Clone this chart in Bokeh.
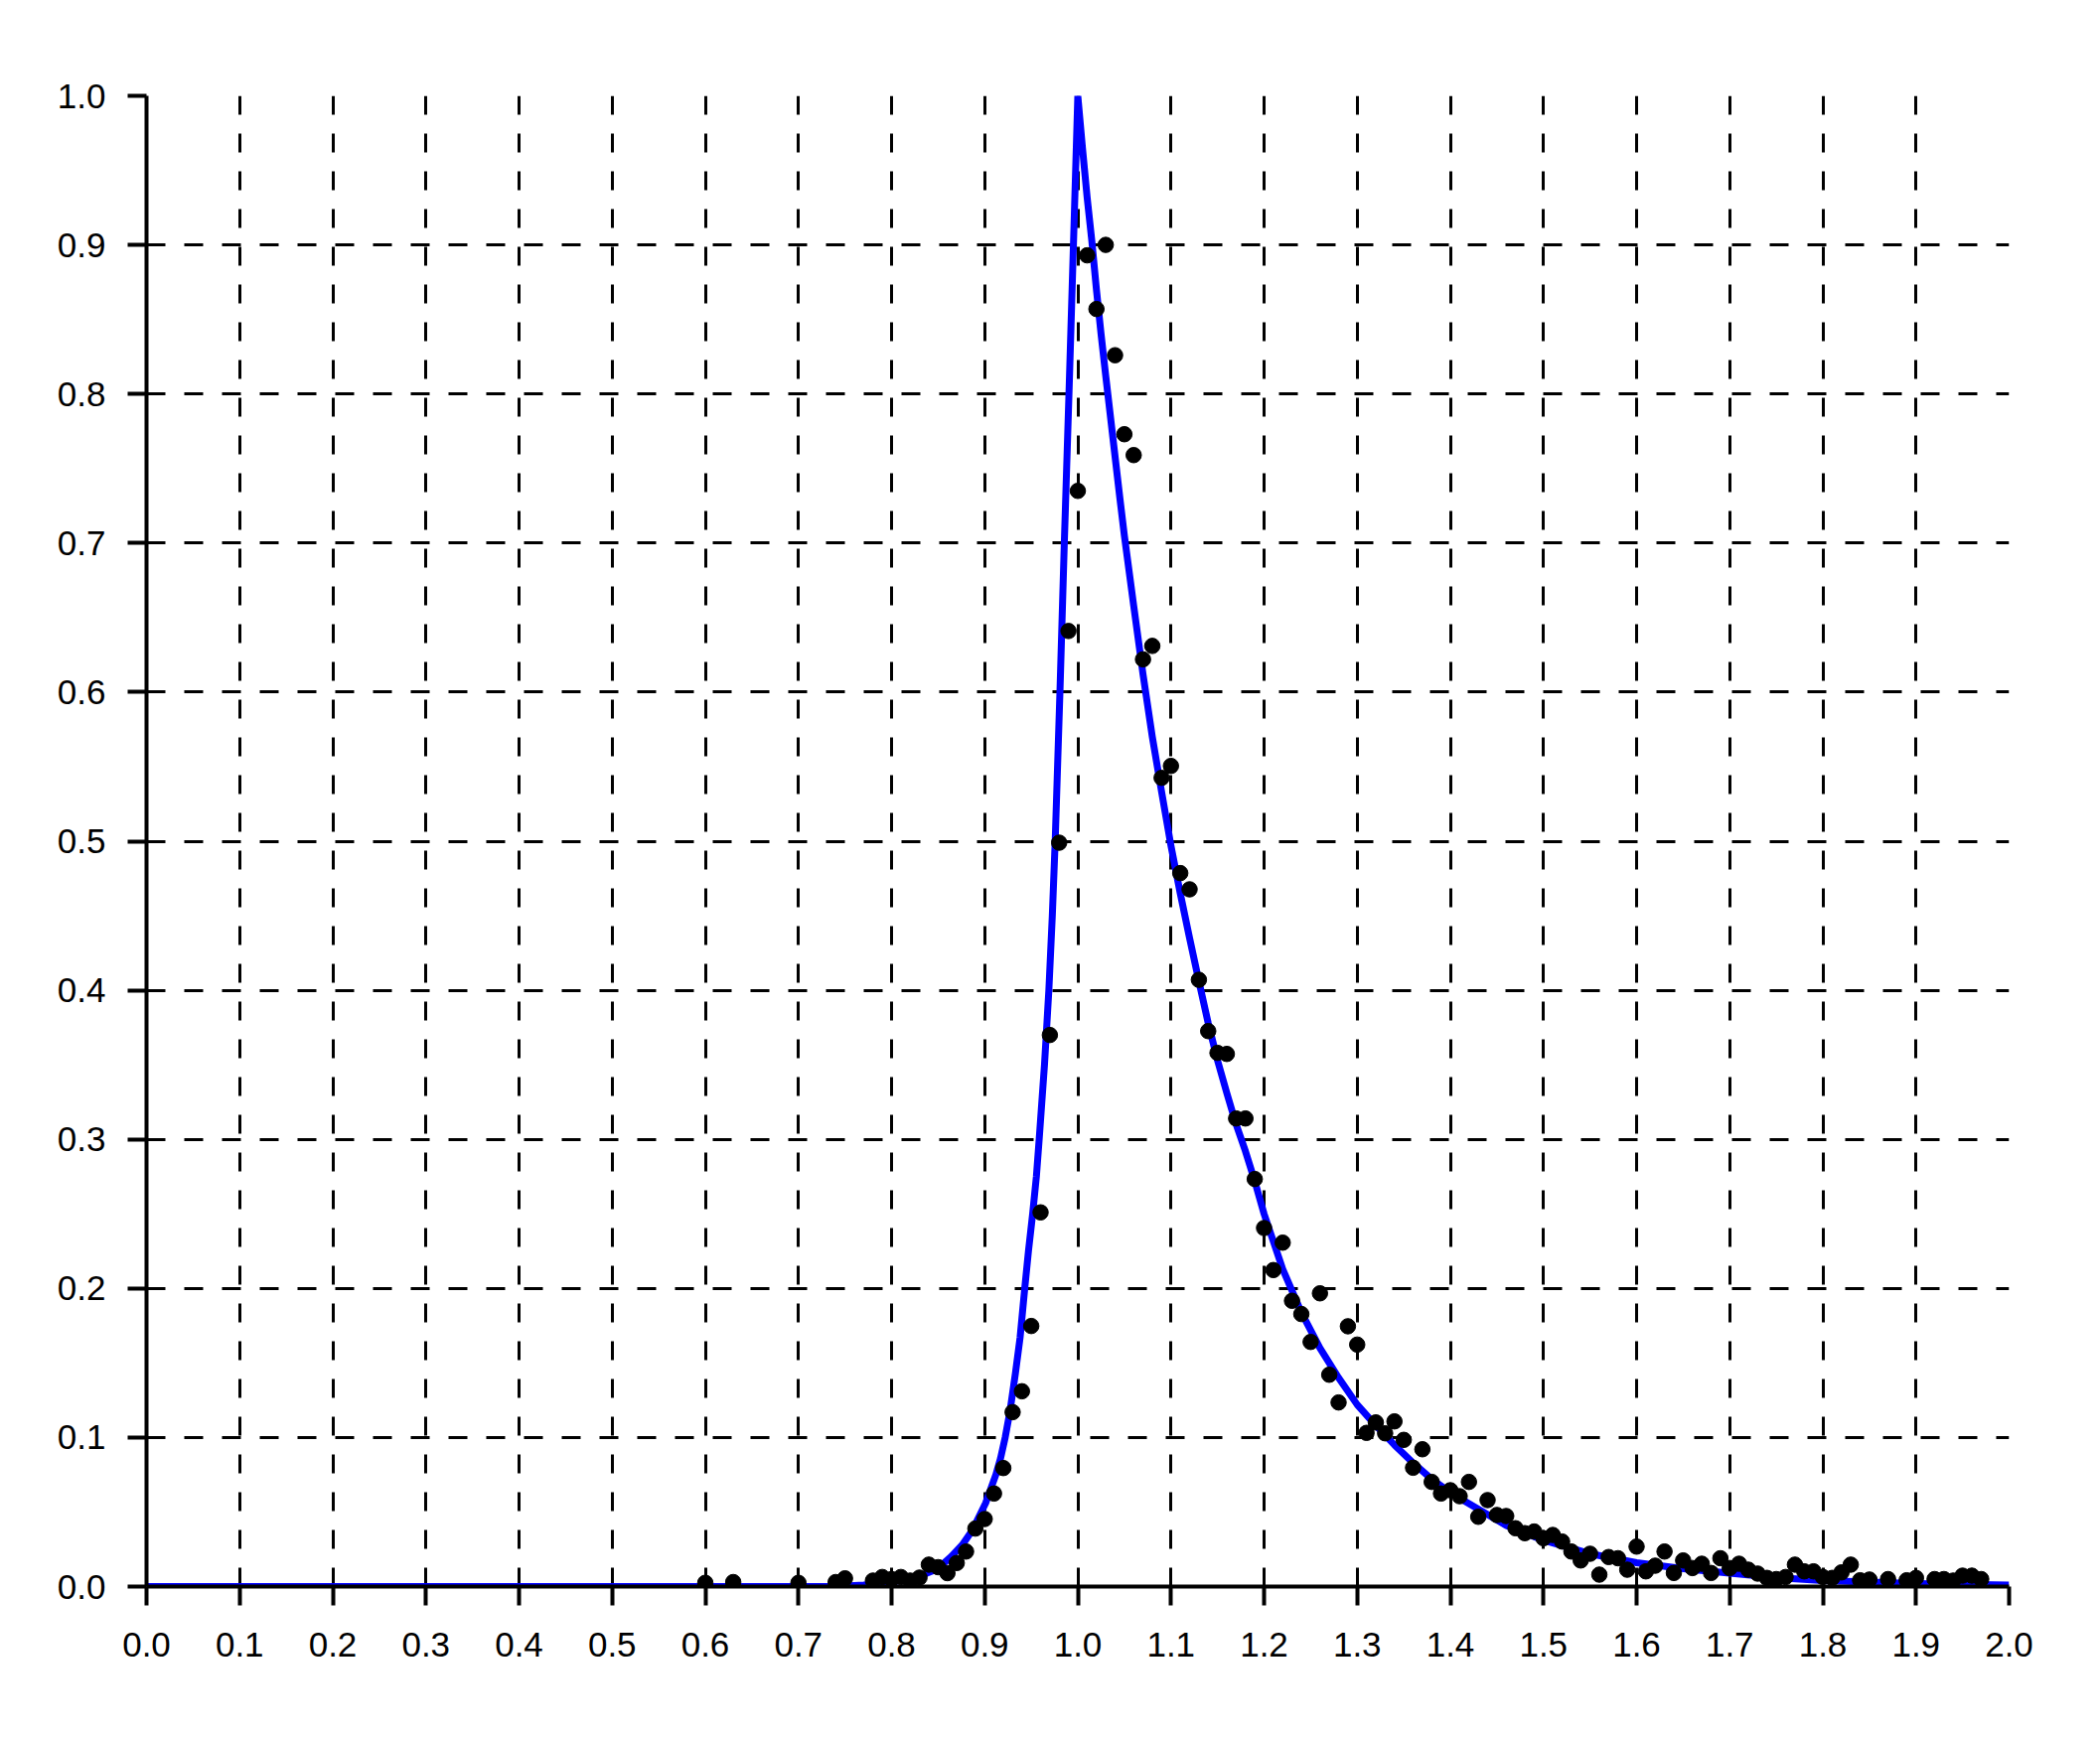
from bokeh.plotting import figure
from bokeh.models import FixedTicker, Range1d, PrintfTickFormatter
from bokeh.embed import file_html
from bokeh.resources import INLINE

# ---- data ----
x_ticks = [0.0, 0.1, 0.2, 0.3, 0.4, 0.5, 0.6, 0.7, 0.8, 0.9, 1.0,
           1.1, 1.2, 1.3, 1.4, 1.5, 1.6, 1.7, 1.8, 1.9, 2.0]
y_ticks = [0.0, 0.1, 0.2, 0.3, 0.4, 0.5, 0.6, 0.7, 0.8, 0.9, 1.0]

# fitted curve (blue)
curve_x = [0.0, 0.74, 0.77, 0.79, 0.80, 0.817, 0.83, 0.846, 0.855, 0.864,
           0.876, 0.887, 0.901, 0.912, 0.917, 0.922, 0.927, 0.933, 0.938,
           0.943, 0.947, 0.9515, 0.9555, 0.9585,
           0.9642, 0.9689, 0.9726, 0.9757, 0.9808, 0.9855, 0.9905, 0.9953,
           1.0,
           1.005, 1.010, 1.015, 1.020, 1.025, 1.030, 1.035, 1.040, 1.045,
           1.050, 1.060, 1.070, 1.080, 1.090, 1.100, 1.110, 1.120, 1.130,
           1.140, 1.150, 1.160, 1.170, 1.180, 1.190, 1.200, 1.220, 1.240,
           1.260, 1.280, 1.300, 1.320, 1.340, 1.360, 1.380, 1.400, 1.430,
           1.460, 1.500, 1.550, 1.600, 1.650, 1.700, 1.750, 1.800, 1.850,
           1.900, 1.950, 2.000]
curve_y = [0.0, 0.0, 0.001, 0.002, 0.003, 0.005, 0.007, 0.011, 0.015, 0.020,
           0.028, 0.038, 0.056, 0.075, 0.086, 0.100, 0.117, 0.143, 0.167,
           0.200, 0.225, 0.250, 0.275, 0.300,
           0.350, 0.400, 0.450, 0.500, 0.600, 0.700, 0.800, 0.900,
           1.000,
           0.965, 0.932, 0.903, 0.870, 0.840, 0.812, 0.785, 0.758, 0.731,
           0.705, 0.658, 0.612, 0.570, 0.533, 0.497, 0.465, 0.435, 0.406,
           0.378, 0.353, 0.331, 0.310, 0.292, 0.272, 0.250, 0.213, 0.184,
           0.160, 0.140, 0.122, 0.108, 0.095, 0.083, 0.072, 0.063, 0.052,
           0.041, 0.031, 0.022, 0.016, 0.012, 0.009, 0.006, 0.004, 0.003,
           0.002, 0.0015, 0.001]

# measured points (black dots)
dot_x = [0.60, 0.63, 0.70, 0.74, 0.75, 0.78, 0.79, 0.80, 0.81, 0.82, 0.83,
         0.84, 0.85, 0.86, 0.87, 0.88, 0.89, 0.90, 0.91, 0.92, 0.93, 0.94,
         0.95, 0.96, 0.97, 0.98, 0.99, 1.00, 1.01, 1.02, 1.03, 1.04, 1.05,
         1.06, 1.07, 1.08, 1.09, 1.10, 1.11, 1.12, 1.13, 1.14, 1.15, 1.16,
         1.17, 1.18, 1.19, 1.20, 1.21, 1.22, 1.23, 1.24, 1.25, 1.26, 1.27,
         1.28, 1.29, 1.30, 1.31, 1.32, 1.33, 1.34, 1.35, 1.36, 1.37, 1.38,
         1.39, 1.40, 1.41, 1.42, 1.43, 1.44, 1.45, 1.46, 1.47, 1.48, 1.49,
         1.50, 1.51, 1.52, 1.53, 1.54, 1.55, 1.56, 1.57, 1.58, 1.59, 1.60,
         1.61, 1.62, 1.63, 1.64, 1.65, 1.66, 1.67, 1.68, 1.69, 1.70, 1.71,
         1.72, 1.73, 1.74, 1.75, 1.76, 1.77, 1.78, 1.79, 1.80, 1.81, 1.82,
         1.83, 1.84, 1.85, 1.87, 1.89, 1.90, 1.92, 1.93, 1.94, 1.95, 1.96,
         1.97]
dot_y = [0.0025, 0.003, 0.0025, 0.003, 0.0055, 0.004, 0.0064, 0.005, 0.0064,
         0.004, 0.006, 0.0147, 0.013, 0.009, 0.0158, 0.0235, 0.0389, 0.0453,
         0.0624, 0.0795, 0.117, 0.131, 0.1748, 0.251, 0.370, 0.499, 0.641,
         0.735, 0.893, 0.857, 0.900, 0.826, 0.773, 0.759, 0.622, 0.631,
         0.5425, 0.5505, 0.4786, 0.4677, 0.407, 0.3726, 0.358, 0.3573, 0.314,
         0.314, 0.2734, 0.2405, 0.2123, 0.2307, 0.1917, 0.1828, 0.1641,
         0.1967, 0.1421, 0.1235, 0.1746, 0.1623, 0.1031, 0.1101, 0.1028,
         0.1108, 0.0984, 0.0797, 0.0921, 0.0702, 0.0624, 0.0646, 0.0606,
         0.0702, 0.0468, 0.058, 0.048, 0.0473, 0.0391, 0.0358, 0.0369,
         0.0324, 0.0346, 0.0302, 0.0235, 0.0175, 0.022, 0.008, 0.0198, 0.019,
         0.0113, 0.0268, 0.0102, 0.014, 0.0235, 0.0091, 0.0175, 0.0124,
         0.0153, 0.0091, 0.019, 0.0124, 0.0153, 0.0113, 0.0087, 0.0058,
         0.005, 0.0064, 0.0147, 0.0102, 0.0102, 0.0064, 0.0058, 0.0095,
         0.0147, 0.0042, 0.0047, 0.005, 0.0042, 0.0058, 0.005, 0.005, 0.004,
         0.0073, 0.0073, 0.005]

# ---- figure ----
p = figure(frame_width=1875, frame_height=1501,
           x_range=Range1d(0, 2), y_range=Range1d(0, 1),
           output_backend="svg", toolbar_location=None,
           min_border_left=147, min_border_top=96,
           min_border_right=70, min_border_bottom=120)
p.outline_line_color = None
p.background_fill_color = "white"
p.border_fill_color = "white"

p.xaxis.ticker = FixedTicker(ticks=x_ticks)
p.yaxis.ticker = FixedTicker(ticks=y_ticks)
p.xgrid.ticker = FixedTicker(ticks=x_ticks)
p.ygrid.ticker = FixedTicker(ticks=y_ticks)

for ax in (p.xaxis[0], p.yaxis[0]):
    ax.formatter = PrintfTickFormatter(format="%.1f")
    ax.axis_line_color = "black"
    ax.axis_line_width = 4
    ax.major_tick_line_color = "black"
    ax.major_tick_line_width = 4
    ax.major_tick_out = 19
    ax.major_tick_in = 0
    ax.minor_tick_out = 0
    ax.minor_tick_in = 0
    ax.major_label_text_font = "Liberation Sans"
    ax.major_label_text_font_size = "35px"
    ax.major_label_text_color = "black"
p.yaxis[0].major_label_standoff = 22
p.xaxis[0].major_label_standoff = 27

for g in (p.xgrid[0], p.ygrid[0]):
    g.grid_line_color = "black"
    g.grid_line_width = 3
    g.grid_line_dash = "19 19"

p.line(curve_x, curve_y, line_color="#0000ff", line_width=7,
       line_join="round")
p.scatter(dot_x, dot_y, size=15.5, fill_color="black", line_color="black")

open("out.html", "w").write(file_html(p, INLINE))
